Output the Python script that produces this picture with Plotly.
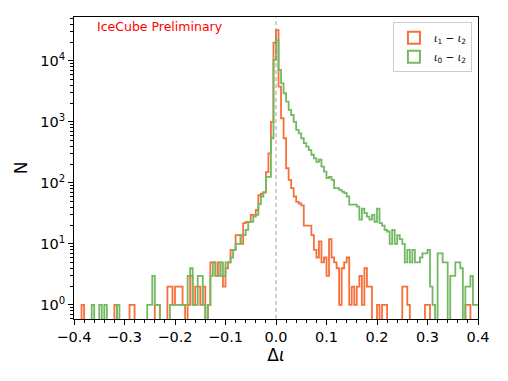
import numpy as np
import plotly.graph_objects as go

# histogram of delta-iota, 0.005 wide bins between -0.4 and 0.4
bin_lo, bin_hi, bin_w = -0.4, 0.4, 0.005

# iota_1 - iota_2 (160 bins, left to right)
counts_12 = [
    0, 0, 0, 1, 0, 0, 0, 0, 0, 0,
    0, 0, 0, 0, 0, 0, 1, 0, 0, 0,
    0, 0, 1, 1, 0, 0, 0, 0, 0, 0,
    0, 0, 1, 1, 0, 0, 0, 2, 2, 1,
    2, 2, 2, 1, 0, 1, 3, 1, 2, 2,
    1, 2, 0, 1, 5, 5, 3, 5, 3, 2,
    4, 5, 8, 8, 14, 14, 10, 22, 23, 23,
    30, 30, 36, 63, 67, 70, 150, 306, 1000, 20000,
    32000, 3800, 1150, 540, 174, 112, 82, 60, 49, 46,
    43, 20, 20, 20, 14, 8, 6, 11, 5, 6,
    3, 12, 6, 5, 4, 1, 4, 5, 6, 1,
    2, 1, 2, 3, 1, 4, 2, 2, 0, 0,
    1, 0, 1, 1, 0, 0, 0, 0, 0, 0,
    2, 2, 1, 0, 0, 0, 0, 0, 0, 1,
    1, 0, 0, 0, 0, 0, 0, 0, 0, 0,
    0, 0, 0, 0, 0, 1, 1, 0, 0, 0,
]

# iota_0 - iota_2
counts_02 = [
    0, 0, 0, 0, 0, 0, 0, 1, 0, 0,
    1, 0, 1, 0, 0, 0, 0, 1, 0, 0,
    0, 0, 0, 0, 0, 0, 0, 0, 0, 1,
    1, 3, 1, 1, 0, 0, 0, 0, 1, 1,
    1, 1, 1, 1, 1, 3, 4, 1, 1, 3,
    3, 1, 0, 1, 3, 5, 3, 3, 5, 3,
    5, 5, 6, 8, 10, 10, 14, 14, 17, 23,
    23, 28, 30, 45, 60, 70, 126, 126, 540, 10400,
    22000, 7100, 4300, 2950, 2150, 1580, 1300, 1000, 740, 650,
    540, 450, 395, 345, 290, 253, 222, 240, 185, 153,
    120, 126, 112, 82, 82, 77, 72, 68, 60, 44,
    44, 44, 41, 25, 38, 32, 28, 25, 30, 23,
    38, 22, 20, 17, 16, 10, 17, 10, 14, 12,
    10, 5, 8, 5, 8, 5, 5, 6, 7, 7,
    8, 2, 1, 0, 7, 7, 5, 5, 0, 3,
    3, 5, 5, 4, 0, 2, 2, 3, 1, 1,
]

label_12 = "<i>ι</i><sub>1</sub> − <i>ι</i><sub>2</sub>"
label_02 = "<i>ι</i><sub>0</sub> − <i>ι</i><sub>2</sub>"
c_12 = "#f7703a"
c_02 = "#72b962"

edges = np.linspace(bin_lo, bin_hi, len(counts_12) + 1)


def step_trace(counts, color):
    # empty bins are pushed below the visible log range so the outline drops out
    y = np.array(counts + [counts[-1]], dtype=float)
    y[y <= 0] = 1e-2
    return go.Scatter(x=edges, y=y, mode="lines", line_shape="hv",
                      line=dict(color=color, width=1.8), showlegend=False,
                      hoverinfo="skip")


fig = go.Figure()
fig.add_trace(step_trace(counts_12, c_12))
fig.add_trace(step_trace(counts_02, c_02))
# outlined patches for the legend
for name, col in [(label_12, c_12), (label_02, c_02)]:
    fig.add_trace(go.Bar(x=[None], y=[None], name=name,
                         marker=dict(color="rgba(0,0,0,0)",
                                     line=dict(color=col, width=2))))

fig.add_vline(x=0, line=dict(color="#888888", dash="4px,3px", width=0.8))
fig.add_annotation(text="IceCube Preliminary", xref="paper", yref="paper",
                   x=0.052, y=0.967, xanchor="left", yanchor="middle",
                   showarrow=False, font=dict(color="red", size=12.5))

# page body has an 8px margin, so the figure is sized to fit inside it
fig.update_layout(
    width=492, height=365,
    margin=dict(l=66, r=22, t=9, b=54),
    paper_bgcolor="white", plot_bgcolor="white",
    font=dict(family="DejaVu Sans", size=14.5, color="black"),
    legend=dict(x=0.985, y=0.983, xanchor="right", yanchor="top",
                bgcolor="white", bordercolor="#cccccc", borderwidth=1,
                font=dict(size=10.5), itemwidth=30),
)
fig.update_xaxes(range=[bin_lo, bin_hi], tick0=0, dtick=0.1, tickformat=".1f",
                 ticks="outside", ticklen=5, tickwidth=1, tickcolor="black",
                 showline=True, linecolor="black", linewidth=1, mirror=True,
                 showgrid=False, zeroline=False,
                 minor=dict(dtick=0.02, ticks="outside", ticklen=3,
                            tickwidth=1, tickcolor="black", showgrid=False),
                 title=dict(text="Δ<i>ι</i>", standoff=4))
fig.update_yaxes(type="log", range=[-0.23, 4.72],
                 tickvals=[1, 10, 100, 1000, 10000],
                 ticktext=["10<sup>0</sup>", "10<sup>1</sup>", "10<sup>2</sup>",
                           "10<sup>3</sup>", "10<sup>4</sup>"],
                 ticks="outside", ticklen=5, tickwidth=1, tickcolor="black",
                 showline=True, linecolor="black", linewidth=1, mirror=True,
                 showgrid=False, zeroline=False,
                 minor=dict(dtick="D1", ticks="outside", ticklen=3,
                            tickwidth=1, tickcolor="black", showgrid=False),
                 title=dict(text="N", standoff=8))

fig.write_html("out.html")
